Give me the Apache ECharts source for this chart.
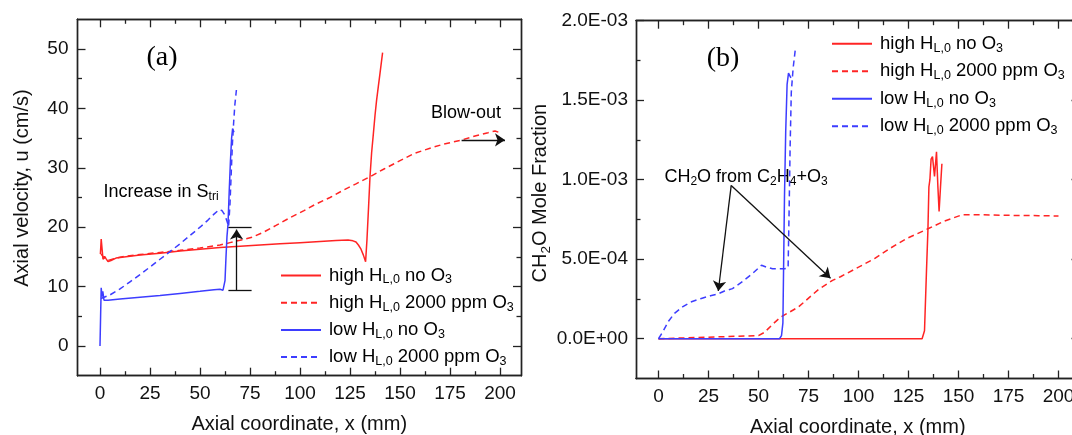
<!DOCTYPE html>
<html>
<head>
<meta charset="utf-8">
<script src="https://cdn.jsdelivr.net/npm/echarts@6/dist/echarts.min.js"></script>
<style>
  html, body { margin: 0; padding: 0; background: #fff; }
  #chart { width: 1072px; height: 435px; }
</style>
</head>
<body>
<div id="chart"></div>
<script>
// ---------- Panel (a): axial velocity u (cm/s) vs axial coordinate x (mm) ----------
const velHighNoO3 = [[0.2,15.5],[0.6,18.0],[1.0,16.5],[1.5,14.6],[2.3,15.1],[3.0,14.7],[4.0,14.2],[5.5,14.4],[8,14.8],[12,15.0],[20,15.3],[30,15.6],[40,16.0],[50,16.3],[60,16.6],[70,16.8],[80,17.0],[90,17.2],[100,17.4],[110,17.6],[118,17.75],[124,17.85],[126.5,17.7],[128,17.5],[129.2,17.0],[130.5,16.3],[131.7,15.3],[132.8,14.2],[133.5,18],[134.3,23.5],[135,28.5],[135.8,32.5],[136.7,35.8],[137.5,38.8],[138.3,41.4],[139.2,43.8],[140,45.9],[140.7,47.8],[141.3,49.4]];
const velHighO3 = [[0.5,15.5],[2,14.8],[4,14.4],[8,14.8],[12,15.1],[20,15.4],[30,15.75],[40,16.1],[50,16.5],[60,17.0],[65,17.4],[70,17.8],[76,18.3],[82,19.2],[88,20.3],[95,21.6],[102,22.8],[108,23.9],[115,25.0],[122,26.3],[128,27.3],[135,28.5],[142,29.8],[150,31.2],[157,32.4],[165,33.3],[172,34.0],[181,34.7],[188,35.4],[194,35.9],[197.5,36.2],[199.2,36.0]];
const velLowNoO3 = [[0,0],[0.3,5],[0.6,9.8],[1.0,8.3],[1.4,9.2],[2.0,7.7],[4,7.7],[10,7.9],[20,8.2],[30,8.5],[40,8.85],[50,9.2],[57,9.45],[60,9.55],[61.5,9.4],[62,9.6],[62.5,11],[63,15],[63.5,18.5],[64,20.5],[64.6,26],[65.2,31],[65.8,35],[66.3,36.6],[66.7,36.9],[67,36]];
const velLowO3 = [[0.5,8.0],[2,8.2],[5,8.6],[10,9.6],[15,10.8],[20,12.0],[25,13.3],[30,14.6],[35,15.9],[40,17.2],[45,18.6],[50,20.0],[54,21.2],[57,22.2],[59.5,22.95],[61,22.8],[62.5,22.0],[63.5,21.0],[64.3,20.1],[65,24],[65.6,29],[66.2,34],[66.8,37.5],[67.4,40.5],[68.2,43.1]];

// ---------- Panel (b): CH2O mole fraction vs axial coordinate x (mm) ----------
const ch2oHighNoO3 = [[0,0],[131.8,0],[133,0.05e-3],[134,0.43e-3],[134.7,0.68e-3],[135.2,0.955e-3],[135.7,1.0e-3],[136.3,1.13e-3],[137,1.145e-3],[138,1.02e-3],[139,1.175e-3],[139.7,0.955e-3],[140.3,0.80e-3],[141,0.955e-3],[141.7,1.10e-3]];
const ch2oHighO3 = [[0,0],[10,0.004e-3],[20,0.008e-3],[30,0.012e-3],[40,0.016e-3],[50,0.02e-3],[53,0.04e-3],[57,0.09e-3],[61,0.135e-3],[70,0.2e-3],[80,0.31e-3],[87,0.367e-3],[91,0.39e-3],[100,0.45e-3],[108,0.504e-3],[116,0.57e-3],[124,0.63e-3],[135,0.693e-3],[143,0.74e-3],[152,0.78e-3],[160,0.78e-3],[175,0.776e-3],[190,0.774e-3],[200,0.772e-3]];
const ch2oLowNoO3 = [[0,0],[60.5,0],[61.5,0.02e-3],[62.2,0.1e-3],[62.6,0.5e-3],[63,0.9e-3],[63.6,1.3e-3],[64.3,1.6e-3],[65,1.67e-3],[65.6,1.68e-3],[66.2,1.64e-3]];
const ch2oLowO3 = [[0,0],[2,0.04e-3],[5,0.11e-3],[8,0.16e-3],[12,0.2e-3],[16,0.23e-3],[21,0.252e-3],[26,0.27e-3],[30,0.283e-3],[33,0.3e-3],[37,0.315e-3],[42,0.36e-3],[47,0.41e-3],[51.5,0.462e-3],[54,0.45e-3],[57,0.44e-3],[63,0.44e-3],[64.8,0.445e-3],[65.3,0.8e-3],[65.8,1.2e-3],[66.4,1.55e-3],[67.3,1.7e-3],[68.5,1.83e-3]];

// ---------- Axis ranges and ticks ----------
const xRange = [-11.25, 210.5];
const xMajorTicks = [0, 25, 50, 75, 100, 125, 150, 175, 200];
const xMinorTicks = [12.5, 37.5, 62.5, 87.5, 112.5, 137.5, 162.5, 187.5];
const velRange = [-5, 55];
const velMajorTicks = [0, 10, 20, 30, 40, 50];
const velMinorTicks = [5, 15, 25, 35, 45];
const ch2oRange = [-2.5e-4, 2.0e-3];
const ch2oMajorTicks = [0, 5e-4, 1e-3, 1.5e-3, 2e-3];
const ch2oMinorTicks = [2.5e-4, 7.5e-4, 1.25e-3, 1.75e-3];

// ---------- Annotations (data coordinates) ----------
const velBracketTop = [[64.2, 20], [75.8, 20]];
const velBracketBottom = [[64.2, 9.43], [75.8, 9.43]];
const velIncreaseArrow = [[68.3, 9.43], [68.3, 19.6]];
const blowOutArrow = [[180.8, 34.7], [202.5, 34.7]];
const ch2oArrowA = [[36.35, 0.964e-3], [29.9, 0.30e-3]];
const ch2oArrowB = [[36.35, 0.964e-3], [86.0, 0.38e-3]];

const seriesNames = ['high HL,0 no O3', 'high HL,0 2000 ppm O3', 'low HL,0 no O3', 'low HL,0 2000 ppm O3'];
const legendRich = {
  'high HL,0 no O3': '{n|high H}{s|L,0}{n| no O}{s|3}',
  'high HL,0 2000 ppm O3': '{n|high H}{s|L,0}{n| 2000 ppm O}{s|3}',
  'low HL,0 no O3': '{n|low H}{s|L,0}{n| no O}{s|3}',
  'low HL,0 2000 ppm O3': '{n|low H}{s|L,0}{n| 2000 ppm O}{s|3}'
};

const RED = '#ff2424';
const BLUE = '#3d3dff';
const INK = '#000';
const SANS = '"Liberation Sans", Arial, Helvetica, sans-serif';
const SERIF = '"Liberation Serif", "Times New Roman", serif';

const richStyles = {
  n: { fontFamily: SANS, fontSize: 18, color: INK, lineHeight: 22 },
  s: { fontFamily: SANS, fontSize: 12, color: INK, lineHeight: 9, verticalAlign: 'bottom' },
  t: { fontFamily: SERIF, fontSize: 28, color: INK, lineHeight: 32 }
};
const legendRichStyles = {
  n: { fontFamily: SANS, fontSize: 18.5, color: INK, lineHeight: 22 },
  s: { fontFamily: SANS, fontSize: 12.5, color: INK, lineHeight: 9, verticalAlign: 'bottom' }
};
const nameRichStyles = {
  n: { fontFamily: SANS, fontSize: 20, color: '#111', lineHeight: 24 },
  s: { fontFamily: SANS, fontSize: 13.5, color: '#111', lineHeight: 10, verticalAlign: 'bottom' }
};

function sciLabel(v) {
  if (Math.abs(v) < 1e-12) return '0.0E+00';
  const e = Math.floor(Math.log10(Math.abs(v)) + 1e-9);
  const m = v / Math.pow(10, e);
  const sign = e < 0 ? '-' : '+';
  const ae = Math.abs(e);
  return m.toFixed(1) + 'E' + sign + (ae < 10 ? '0' : '') + ae;
}

// One axis carrying either major (long) or minor (short) inside ticks.
function axis(grid, position, range, ticks, tickLen, extra) {
  const base = {
    type: 'value', gridIndex: grid, position, min: range[0], max: range[1],
    axisLine: { show: true, onZero: false, lineStyle: { color: '#222', width: 1.4 } },
    axisTick: { show: true, inside: true, length: tickLen, customValues: ticks, lineStyle: { color: '#222', width: 1.3 } },
    axisLabel: { show: false },
    splitLine: { show: false },
    silent: true
  };
  return Object.assign(base, extra || {});
}

const tickFont = { show: true, color: '#111', fontFamily: SANS, fontSize: 19 };
const nameFont = { color: '#111', fontFamily: SANS, fontSize: 20 };

const xAxes = [];
const yAxes = [];
[0, 1].forEach(g => {
  xAxes.push(axis(g, 'bottom', xRange, xMajorTicks, 8, {
    axisLabel: Object.assign({ customValues: xMajorTicks, margin: 9 }, tickFont),
    name: 'Axial coordinate, x (mm)', nameLocation: 'middle', nameGap: 39,
    nameTextStyle: nameFont
  }));
  xAxes.push(axis(g, 'bottom', xRange, xMinorTicks, 4.5));
  xAxes.push(axis(g, 'top', xRange, xMajorTicks, 8));
  xAxes.push(axis(g, 'top', xRange, xMinorTicks, 4.5));
});
// panel (a) y axes
yAxes.push(axis(0, 'left', velRange, velMajorTicks, 8, {
  axisLabel: Object.assign({ customValues: velMajorTicks, margin: 9 }, tickFont),
  name: 'Axial velocity, u (cm/s)', nameLocation: 'middle', nameGap: 45,
  nameTextStyle: Object.assign({ padding: [0, 0, 0, 19] }, nameFont)
}));
yAxes.push(axis(0, 'left', velRange, velMinorTicks, 4.5));
yAxes.push(axis(0, 'right', velRange, velMajorTicks, 8));
yAxes.push(axis(0, 'right', velRange, velMinorTicks, 4.5));
// panel (b) y axes
yAxes.push(axis(1, 'left', ch2oRange, ch2oMajorTicks, 8, {
  axisLabel: Object.assign({ customValues: ch2oMajorTicks, margin: 8, formatter: sciLabel }, tickFont),
  name: '{n|CH}{s|2}{n|O Mole Fraction}', nameLocation: 'middle', nameGap: 82,
  nameTextStyle: Object.assign({ rich: nameRichStyles, padding: [0, 0, 0, 13] }, nameFont)
}));
yAxes.push(axis(1, 'left', ch2oRange, ch2oMinorTicks, 4.5));
yAxes.push(axis(1, 'right', ch2oRange, ch2oMajorTicks, 8));
yAxes.push(axis(1, 'right', ch2oRange, ch2oMinorTicks, 4.5));

function curve(name, data, color, dashed, g) {
  return {
    type: 'line', name, data, xAxisIndex: g * 4, yAxisIndex: g * 4,
    symbol: 'none', showSymbol: false, silent: true, clip: true,
    lineStyle: { color, width: 1.5, type: dashed ? [6, 4] : 'solid' },
    itemStyle: { color },
    emphasis: { disabled: true }
  };
}

function arrowLine(pts, withHead) {
  return [
    { coord: pts[0], symbol: 'none' },
    { coord: pts[1], symbol: withHead ? 'arrow' : 'none' }
  ];
}

function notes(g, lines, texts) {
  return [
    {
      type: 'line', data: [], xAxisIndex: g * 4, yAxisIndex: g * 4, silent: true,
      markLine: {
        silent: true, animation: false, symbolSize: 10,
        label: { show: false },
        lineStyle: { color: '#111', width: 1.3, type: 'solid' },
        emphasis: { disabled: true },
        data: lines
      }
    },
    {
      type: 'scatter', xAxisIndex: g * 4, yAxisIndex: g * 4, silent: true,
      symbolSize: 0,
      itemStyle: { opacity: 1 },
      data: texts.map(t => ({ value: t.at, label: { show: true, opacity: 1, position: 'inside', align: t.align || 'center', verticalAlign: 'middle', formatter: t.text, rich: richStyles } })),
      emphasis: { disabled: true }
    }
  ];
}

const series = [
  curve(seriesNames[0], velHighNoO3, RED, false, 0),
  curve(seriesNames[1], velHighO3, RED, true, 0),
  curve(seriesNames[2], velLowNoO3, BLUE, false, 0),
  curve(seriesNames[3], velLowO3, BLUE, true, 0),
  curve(seriesNames[0], ch2oHighNoO3, RED, false, 1),
  curve(seriesNames[1], ch2oHighO3, RED, true, 1),
  curve(seriesNames[2], ch2oLowNoO3, BLUE, false, 1),
  curve(seriesNames[3], ch2oLowO3, BLUE, true, 1),
  ...notes(0, [
    arrowLine(velBracketTop, false),
    arrowLine(velBracketBottom, false),
    arrowLine(velIncreaseArrow, true),
    arrowLine(blowOutArrow, true)
  ], [
    { at: [31, 48.5], text: '{t|(a)}' },
    { at: [1.75, 26.0], text: '{n|Increase in S}{s|tri}', align: 'left' },
    { at: [183, 39.2], text: '{n|Blow-out}' }
  ]),
  ...notes(1, [
    arrowLine(ch2oArrowA, true),
    arrowLine(ch2oArrowB, true)
  ], [
    { at: [32.25, 1.763e-3], text: '{t|(b)}' },
    { at: [43.75, 1.016e-3], text: '{n|CH}{s|2}{n|O from C}{s|2}{n|H}{s|4}{n|+O}{s|3}' }
  ])
];

function legend(left, top, gap) {
  return {
    data: seriesNames, orient: 'vertical', left, top, padding: 0,
    itemWidth: 40, itemHeight: 14, itemGap: gap, selectedMode: false,
    itemStyle: { opacity: 0 },
    formatter: name => legendRich[name],
    textStyle: { color: INK, fontFamily: SANS, fontSize: 18.5, padding: [0, 0, 0, 3], rich: legendRichStyles }
  };
}

const chart = echarts.init(document.getElementById('chart'), null, { renderer: 'canvas' });
chart.setOption({
  animation: false,
  backgroundColor: '#fff',
  grid: [
    { left: 77.5, top: 19.3, width: 443.5, height: 356.4, outerBoundsMode: 'none', containLabel: false },
    { left: 636, top: 20.7, width: 443.5, height: 357.8, outerBoundsMode: 'none', containLabel: false }
  ],
  legend: [legend(280, 266, 6.7), legend(831, 34.3, 7.0)],
  xAxis: xAxes,
  yAxis: yAxes,
  series
});
</script>
</body>
</html>
